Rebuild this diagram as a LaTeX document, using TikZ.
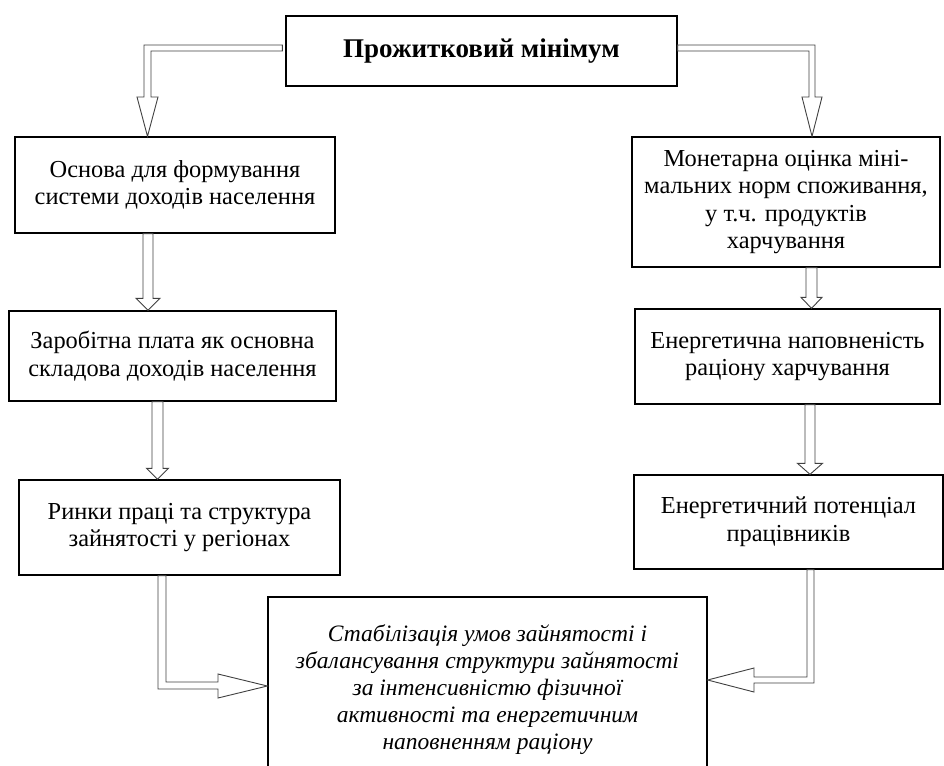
\documentclass[tikz,border=0pt]{standalone}
\usepackage{fontspec}
\setmainfont{Liberation Serif}
\usetikzlibrary{calc}
\tikzset{
  box/.style={draw=black, line width=1.3pt, fill=white, inner sep=0pt, align=center,
    font=\fontsize{24.4}{27.6}\selectfont},
  blk/.style={draw=black!75, line width=0.9pt, fill=white, line join=miter},
}
\newcommand\varrow[6]{%
  \draw[blk] let \p1=(#1.south), \p2=(#2.north) in
    ({#3-#4},\y1) -- ({#3-#4},{\y2+#6pt}) -- ({#3-#5},{\y2+#6pt}) -- (#3,\y2)
    -- ({#3+#5},{\y2+#6pt}) -- ({#3+#4},{\y2+#6pt}) -- ({#3+#4},\y1) -- cycle;}
\begin{document}
\begin{tikzpicture}[x=1pt,y=-1pt]
\useasboundingbox (0,0) rectangle (944,765);
\node[box, minimum width=391pt, minimum height=70pt, font=\fontsize{27}{31}\selectfont\bfseries] (top) at (481.5,51) {Прожитковий мінімум};
\node[box, minimum width=320pt, minimum height=96pt] (l1) at (175,185) {Основа для формування\\системи доходів населення};
\node[box, minimum width=327pt, minimum height=90pt] (l2) at (172.5,356) {Заробітна плата як основна\\складова доходів населення};
\node[box, minimum width=321pt, minimum height=95pt] (l3) at (179.5,527.5) {Ринки праці та структура\\зайнятості у регіонах};
\node[box, minimum width=308pt, minimum height=130pt] (r1) at (786,202) {Монетарна оцінка міні-\\мальних норм споживання,\\у т.ч. продуктів\\харчування};
\node[box, minimum width=305pt, minimum height=95pt] (r2) at (787.5,356.5) {Енергетична наповненість\\раціону харчування};
\node[box, minimum width=309pt, minimum height=94pt] (r3) at (788.5,522) {Енергетичний потенціал\\працівників};
\node[box, minimum width=439pt, minimum height=186pt, font=\fontsize{23.5}{27}\selectfont\itshape] (bot) at (487.5,690) {Стабілізація умов зайнятості і\\збалансування структури зайнятості\\за інтенсивністю фізичної\\активності та енергетичним\\наповненням раціону};
% elbow arrows
\draw[blk] let \p1=(top.west), \p2=(l1.north) in
  ({\x1-3pt},45) -- (144,45) -- (144,97) -- (137,97) -- (147.5,\y2) -- (158,97) -- (151,97) -- (151,51) -- ({\x1-3pt},51) -- cycle;
\draw[blk] let \p1=(top.east), \p2=(r1.north) in
  (\x1,45) -- (815,45) -- (815,97) -- (822,97) -- (812,\y2) -- (802,97) -- (809,97) -- (809,51) -- (\x1,51) -- cycle;
\draw[blk] let \p1=(l3.south), \p2=(bot.west) in
  (158,\y1) -- (158,689) -- (218,689) -- (218,698) -- (\x2,686) -- (218,674) -- (218,682) -- (166,682) -- (166,\y1) -- cycle;
\draw[blk] let \p1=(r3.south), \p2=(bot.east) in
  (814,\y1) -- (814,683) -- (754,683) -- (754,692) -- (\x2,680) -- (754,668) -- (754,677) -- (807,677) -- (807,\y1) -- cycle;
% straight arrows
\varrow{l1}{l2}{148}{5}{12}{12}
\varrow{l2}{l3}{157.5}{5.5}{11}{11}
\varrow{r1}{r2}{811.5}{5.5}{10.5}{11}
\varrow{r2}{r3}{810}{5}{12.5}{11}
\end{tikzpicture}
\end{document}
